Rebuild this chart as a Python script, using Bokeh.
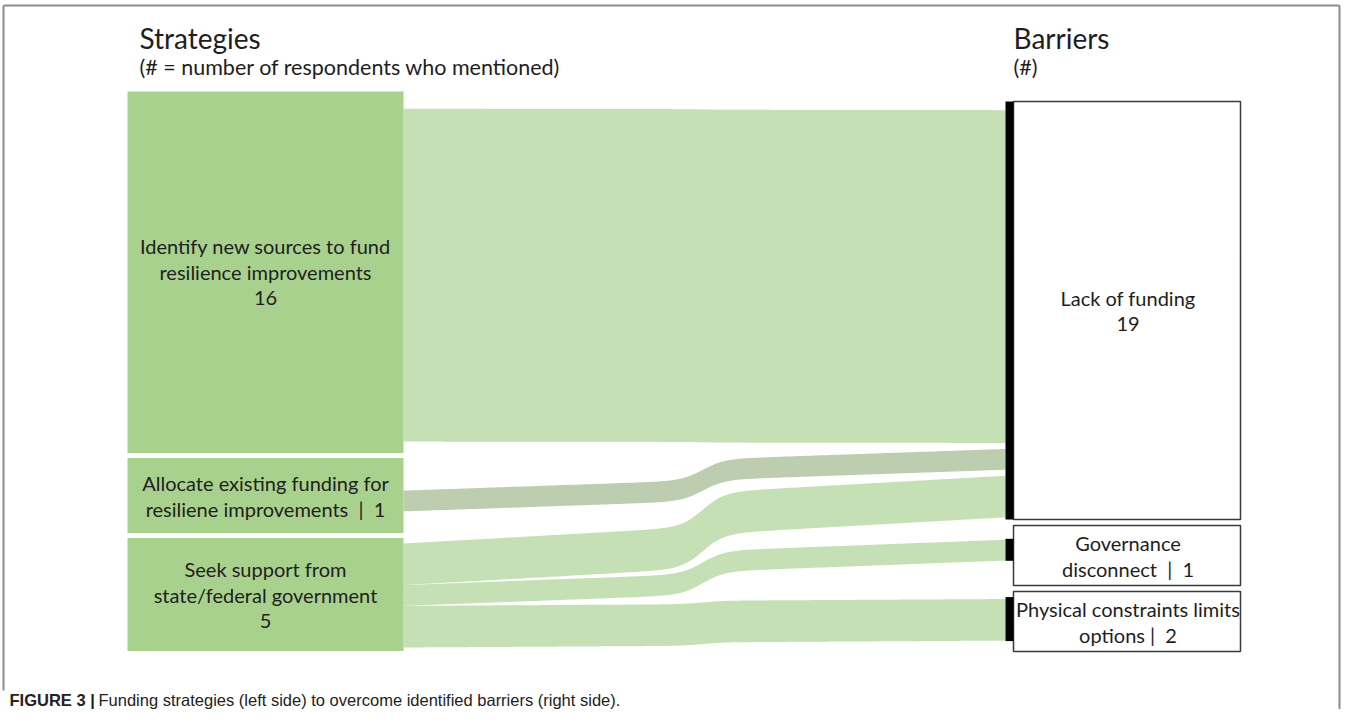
import numpy as np
from bokeh.plotting import figure
from bokeh.models import ColumnDataSource, Range1d
from bokeh.core.properties import value
from bokeh.embed import file_html
from bokeh.resources import INLINE

# ---------------- data ----------------
strategy_names = ["Identify new sources to fund\nresilience improvements",
                  "Allocate existing funding for\nresiliene improvements",
                  "Seek support from\nstate/federal government"]
strategy_counts = [16, 1, 5]
NB = "\u00a0"
strategy_count_sep = ["\n", f" {NB}|{NB} ", "\n"]

barrier_names = ["Lack of funding",
                 "Governance\ndisconnect",
                 "Physical constraints limits\noptions"]
barrier_counts = [19, 1, 2]
barrier_count_sep = ["\n", f" {NB}|{NB} ", f" |{NB} "]

link_source = [0, 1, 2, 2, 2]
link_target = [0, 0, 0, 1, 2]
link_value = [16, 1, 2, 1, 2]

left_title = "Strategies"
left_subtitle = "(# = number of respondents who mentioned)"
right_title = "Barriers"
right_subtitle = "(#)"
caption_bold = "FIGURE 3 |"
caption_text = "Funding strategies (left side) to overcome identified barriers (right side)."

# ---------------- layout / style ----------------
W, H = 1341, 709
LEFT_X0, LEFT_X1 = 127, 403
BAR_X0, RIGHT_X0, RIGHT_X1 = 1005, 1013, 1240
LEFT_TOP, RIGHT_TOP = 91, 101
BOX_SCALE_L, BOX_SCALE_R = 22.6, 22.0
LEFT_MIN_H, RIGHT_MIN_H = 75, 60
LEFT_GAP, RIGHT_GAP = 5, 6
FLOW_SCALE = 20.8
BAR_SCALE = 22.0
BAR_SLACK_FRAC = 0.35
TARGET_GAP = 6
SRC_SLACK_FRAC = 0.6
TGT_SLACK_FRAC = 0.8
LINE_SP = 26

NODE_FILL = "#a9d18e"
FLOW_COLORS = ["#c5e0b4", "#bccdb0", "#c5e0b4"]   # by source
TEXT_COLOR = "#1e1e1e"
FONT = "Lato"

p = figure(width=W, height=H, output_backend="svg", toolbar_location=None,
           x_range=Range1d(0, W), y_range=Range1d(H, 0),
           min_border=0, x_axis_type=None, y_axis_type=None,
           background_fill_color="white", border_fill_color="white")
p.outline_line_color = None
p.grid.visible = False

# frame
p.multi_line(xs=[[3, 1339], [3, 3], [1339, 1339]],
             ys=[[5, 5], [5, 690], [5, 709]],
             line_color="#8c8c8c", line_width=2)

# ---- node boxes ----
def stack(counts, scale, minh, top, gap):
    hs = [max(c * scale, minh) for c in counts]
    tops = []
    y = top
    for h in hs:
        tops.append(y)
        y += h + gap
    return np.array(tops), np.array(hs)

l_tops, l_hs = stack(strategy_counts, BOX_SCALE_L, LEFT_MIN_H, LEFT_TOP, LEFT_GAP)
r_tops, r_hs = stack(barrier_counts, BOX_SCALE_R, RIGHT_MIN_H, RIGHT_TOP, RIGHT_GAP)

bar_h = np.array(barrier_counts) * BAR_SCALE
bar_top = r_tops + np.maximum((r_hs - bar_h) * BAR_SLACK_FRAC, 0)

# ---- flows ----
def shape(t):
    sig = lambda z: 1 / (1 + np.exp(-z))
    s = sig((t - 0.497) / 0.018)
    s0, s1 = sig((0 - 0.497) / 0.018), sig((1 - 0.497) / 0.018)
    s = (s - s0) / (s1 - s0)
    return 0.5 * t + 0.5 * s

n_s, n_t = len(strategy_counts), len(barrier_counts)
src_total = [sum(v for s, v in zip(link_source, link_value) if s == i) for i in range(n_s)]
src_cursor = [l_tops[i] + (l_hs[i] - src_total[i] * FLOW_SCALE) * SRC_SLACK_FRAC for i in range(n_s)]
tgt_links = [[k for k in range(len(link_value)) if link_target[k] == j] for j in range(n_t)]
tgt_cursor = []
for j in range(n_t):
    tot = sum(link_value[k] for k in tgt_links[j]) * FLOW_SCALE + TARGET_GAP * (len(tgt_links[j]) - 1)
    tgt_cursor.append(bar_top[j] + max(bar_h[j] - tot, 0) * TGT_SLACK_FRAC)

xs_f, ys_f, cols = [], [], []
xx = np.linspace(LEFT_X1, BAR_X0, 300)
f = shape((xx - LEFT_X1) / (BAR_X0 - LEFT_X1))
for k in range(len(link_value)):
    s, g, v = link_source[k], link_target[k], link_value[k]
    h = v * FLOW_SCALE
    y0 = src_cursor[s]; src_cursor[s] += h
    y1 = tgt_cursor[g]; tgt_cursor[g] += h + TARGET_GAP
    top = y0 + (y1 - y0) * f
    bot = top + h
    xs_f.append(np.concatenate([xx, xx[::-1]]).tolist())
    ys_f.append(np.concatenate([top, bot[::-1]]).tolist())
    cols.append(FLOW_COLORS[s])

p.patches(xs=xs_f, ys=ys_f, fill_color=cols, line_color=None)

p.quad(left=LEFT_X0, right=LEFT_X1, top=l_tops, bottom=l_tops + l_hs,
       fill_color=NODE_FILL, line_color=None)
p.quad(left=RIGHT_X0, right=RIGHT_X1, top=r_tops, bottom=r_tops + r_hs,
       fill_color="white", line_color="#3a3a3a", line_width=1.5)
p.quad(left=BAR_X0, right=RIGHT_X0, top=bar_top, bottom=bar_top + bar_h,
       fill_color="black", line_color=None)

# ---- labels ----
lx, ly, lt = [], [], []
def add_label(text, cx, cy):
    lines = text.split("\n")
    n = len(lines)
    for i, ln in enumerate(lines):
        lx.append(cx)
        ly.append(cy + (i - (n - 1) / 2) * LINE_SP)
        lt.append(ln)

for i, nm in enumerate(strategy_names):
    add_label(f"{nm}{strategy_count_sep[i]}{strategy_counts[i]}",
              (LEFT_X0 + LEFT_X1) / 2, l_tops[i] + l_hs[i] / 2)
for j, nm in enumerate(barrier_names):
    add_label(f"{nm}{barrier_count_sep[j]}{barrier_counts[j]}",
              (RIGHT_X0 + RIGHT_X1) / 2 + 1, r_tops[j] + r_hs[j] / 2)

p.text(x="x", y="y", text="t", source=ColumnDataSource(dict(x=lx, y=ly, t=lt)),
       text_align="center", text_baseline="middle", text_color=TEXT_COLOR,
       text_font=value(FONT), text_font_size=value("20px"))

# titles
p.text(x=[139, 1013], y=[37, 37], text=[left_title, right_title],
       text_align="left", text_baseline="middle", text_color=TEXT_COLOR,
       text_font=value(FONT), text_font_size=value("28px"))
p.text(x=[139, 1013], y=[66, 66], text=[left_subtitle, right_subtitle],
       text_align="left", text_baseline="middle", text_color=TEXT_COLOR,
       text_font=value(FONT), text_font_size=value("21.5px"))

# caption
p.text(x=[9], y=[699], text=[caption_bold], text_align="left", text_baseline="middle",
       text_color="#222222", text_font=value("Liberation Sans"), text_font_style="bold",
       text_font_size=value("16.5px"))
p.text(x=[98], y=[699], text=[caption_text], text_align="left", text_baseline="middle",
       text_color="#222222", text_font=value("Liberation Sans"),
       text_font_size=value("16.5px"))

open("out.html", "w").write(file_html(p, INLINE))
